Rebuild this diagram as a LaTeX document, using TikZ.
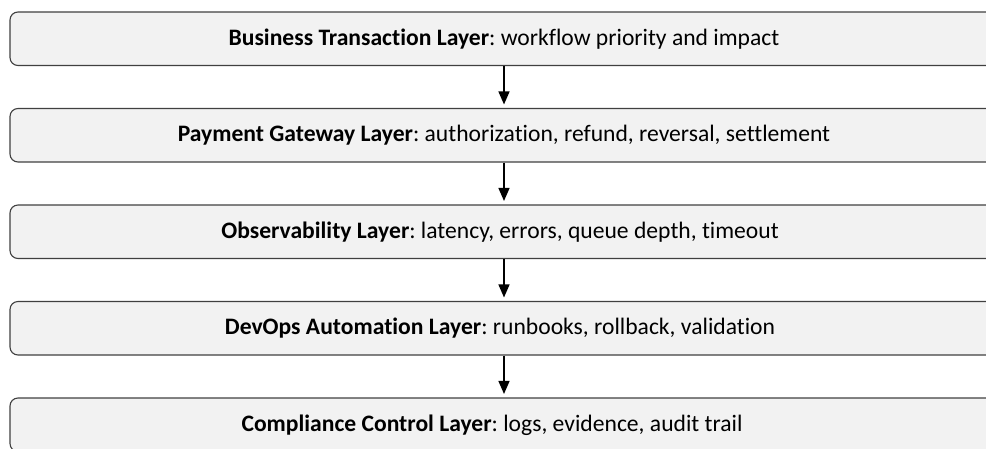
\documentclass[tikz,border=0pt]{standalone}
\usepackage{fontspec}
\setmainfont[Ligatures=NoCommon]{Carlito}
\usetikzlibrary{arrows.meta}
\begin{document}
\frenchspacing
\begin{tikzpicture}[x=1pt,y=-1pt,
  layer/.style={draw=black!75,line width=1.1pt,fill=black!5,rounded corners=8pt,
    minimum width=988pt,minimum height=53.5pt,inner sep=0pt,
    font=\fontsize{23.6}{27}\selectfont,text=black,anchor=center},
  flow/.style={draw=black,line width=1.4pt,-{Triangle[length=13pt,width=11pt]},shorten >=3.5pt}]
\useasboundingbox (0,0) rectangle (986,448);
\clip (0,0) rectangle (986,448);
\node[layer] (l1) at (504,38.75) {\textbf{Business Transaction Layer}: workflow priority and impact};
\node[layer] (l2) at (504,135.25) {\textbf{Payment Gateway Layer}: authorization, refund, reversal, settlement};
\node[layer] (l3) at (504,231.75) {\textbf{Observability Layer}: latency, errors, queue depth, timeout\hspace*{8pt}};
\node[layer] (l4) at (504,328.25) {\textbf{DevOps Automation Layer}: runbooks, rollback, validation\hspace*{8pt}};
\node[layer] (l5) at (504,424.75) {\textbf{Compliance Control Layer}: logs, evidence, audit trail\hspace*{24pt}};
\draw[flow] (l1) -- (l2);
\draw[flow] (l2) -- (l3);
\draw[flow] (l3) -- (l4);
\draw[flow] (l4) -- (l5);
\end{tikzpicture}
\end{document}
